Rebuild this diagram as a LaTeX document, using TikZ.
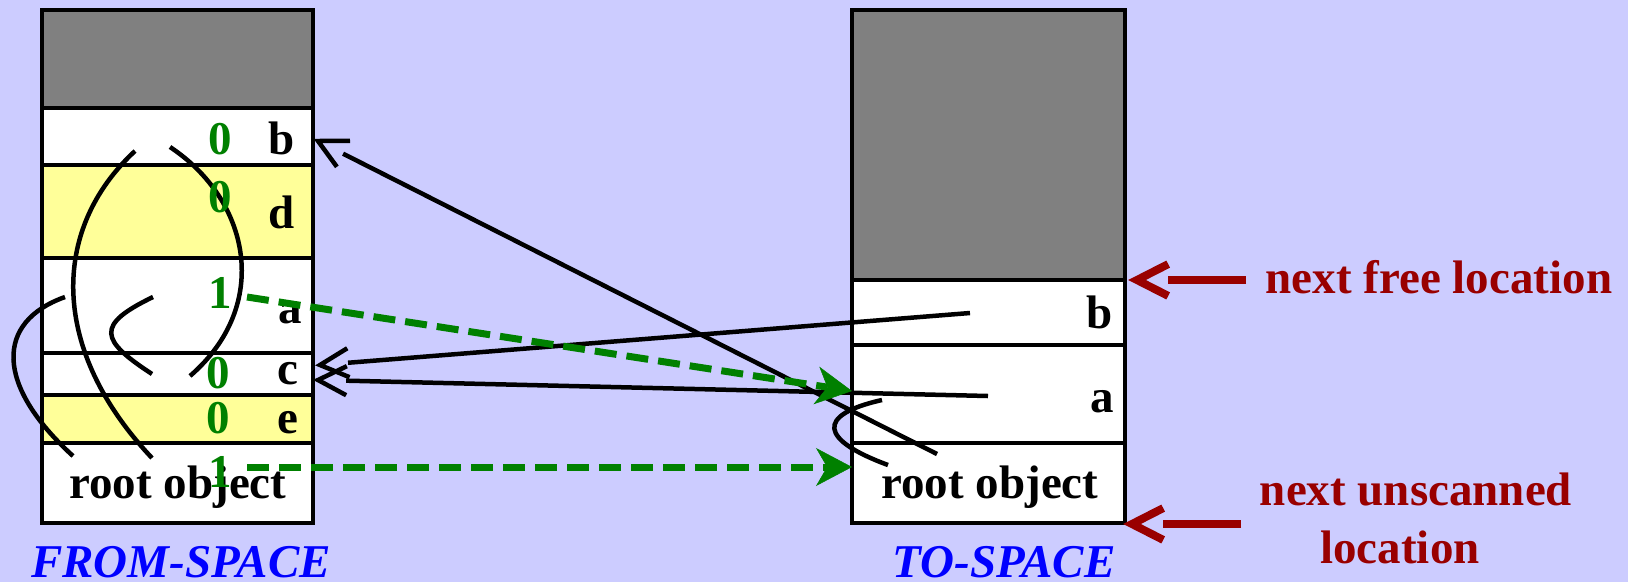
\documentclass[tikz,border=0pt]{standalone}
\usepackage{fontspec}
\setmainfont{Liberation Serif}
\usetikzlibrary{calc,arrows.meta}
\definecolor{bg}{HTML}{CCCCFF}
\definecolor{grayfill}{HTML}{808080}
\definecolor{yel}{HTML}{FFFF99}
\definecolor{grn}{HTML}{008000}
\definecolor{dred}{HTML}{990000}
\definecolor{blu}{HTML}{0000FF}
\newcommand\barbline[5]{% #1 width, #2 start, #3 tip, #4 colour, #5 barb length
  \draw[line width=#1, line cap=butt, #4] (#2) -- ($(#3)!0.88*#5!(#2)$);
  \draw[line width=#1, line join=miter, #4] ($(#3)!#5!27:(#2)$) -- (#3) -- ($(#3)!#5!-27:(#2)$);
}
\begin{document}
\begin{tikzpicture}[x=1pt,y=-1pt,
  cell/.style={draw=black, line width=4pt, inner sep=0pt, outer sep=0pt},
  fcell/.style={cell, minimum width=271pt},
  tcell/.style={cell, minimum width=273pt},
  lbl/.style={font=\fontsize{47}{56}\selectfont\bfseries, inner sep=0pt, anchor=base},
  cnt/.style={lbl, text=grn},
  spacecap/.style={font=\fontsize{47}{56}\selectfont\bfseries\itshape, text=blu, inner sep=0pt, anchor=base},
  note/.style={font=\fontsize{47}{56}\selectfont\bfseries, text=dred, inner sep=0pt, anchor=base},
  curve/.style={line width=4.5pt, line cap=butt, black},
  gptr/.style={line width=7pt, grn, dash pattern=on 22pt off 10pt, -{Stealth[length=36pt,width=38pt,inset=11pt,line width=0.5pt]}},
]
\useasboundingbox (0,0) rectangle (1628,582);
\fill[bg] (0,0) rectangle (1628,582);

% FROM-SPACE cells
\node[fcell, fill=grayfill, minimum height=98.5pt] (fg) at (177.5,58.75) {};
\node[fcell, fill=white, minimum height=57pt] (fb) at (177.5,136.5) {};
\node[fcell, fill=yel, minimum height=93pt] (fd) at (177.5,211.5) {};
\node[fcell, fill=white, minimum height=95pt] (fa) at (177.5,305.5) {};
\node[fcell, fill=white, minimum height=42pt] (fc) at (177.5,374) {};
\node[fcell, fill=yel, minimum height=48pt] (fe) at (177.5,419) {};
\node[fcell, fill=white, minimum height=80pt] (fr) at (177.5,483) {};

% TO-SPACE cells
\node[tcell, fill=grayfill, minimum height=270.5pt] (tg) at (988.5,144.75) {};
\node[tcell, fill=white, minimum height=65pt] (tb) at (988.5,312.5) {};
\node[tcell, fill=white, minimum height=98pt] (ta) at (988.5,394) {};
\node[tcell, fill=white, minimum height=80pt] (tr) at (988.5,483) {};

% labels in from-space
\node[lbl] (lb) at (282,154) {b};
\node[lbl] (ld) at (282,228) {d};
\node[lbl] (la) at (290,323) {a};
\node[lbl] (lc) at (288,384) {c};
\node[lbl] (le) at (288,433) {e};
\node[lbl] (lr) at (178,498) {root object};

% labels in to-space
\node[lbl] (tlb) at (1100,328) {b};
\node[lbl] (tla) at (1102,412) {a};
\node[lbl] (tlr) at (990,498) {root object};

% captions
\node[spacecap] (capf) at (181,577) {FROM-SPACE};
\node[spacecap] (capt) at (1004,577) {TO-SPACE};

% curves (pointers inside from-space)
\draw[curve] (135,151) .. controls (50,230) and (50,350) .. (152,458);
\draw[curve] (170,147) .. controls (250,200) and (272,305) .. (190,376);
\draw[curve] (153,297) .. controls (95,325) and (100,340) .. (152,374);
\draw[curve] (65,297) .. controls (-5,322) and (-5,385) .. (73,456);
\draw[curve] (882,400) .. controls (815,415) and (820,440) .. (888,465);

% forwarding pointers
\coordinate (sR) at (937,454);
\coordinate (tipB) at (318,141);
\coordinate (sB) at (970,313);
\coordinate (tipC1) at (320,365);
\coordinate (sA) at (988,396);
\coordinate (tipC2) at (318,380);
\barbline{4.5pt}{sR}{tipB}{black}{32pt}
\barbline{4.5pt}{sB}{tipC1}{black}{32pt}
\barbline{4.5pt}{sA}{tipC2}{black}{32pt}

% green counts
\node[cnt] (n0b) at (220,154) {0};
\node[cnt] (n0d) at (220,212) {0};
\node[cnt] (n1a) at (220,308) {1};
\node[cnt] (n0c) at (218,388) {0};
\node[cnt] (n0e) at (218,433) {0};
\node[cnt] (n1r) at (220,487) {1};

% green copy arrows
\coordinate (g1s) at (247,297);
\coordinate (g1t) at (852,391);
\coordinate (g2s) at (247,467);
\coordinate (g2t) at (852,467);
\draw[gptr] (g1s) -- (g1t);
\draw[gptr] (g2s) -- (g2t);

% red notes
\node[note] (nf) at (1439,293) {next free location};
\node[note] (nu1) at (1416,505) {next unscanned};
\node[note] (nu2) at (1400,563) {location};
\coordinate (nfs) at (1246,280);
\coordinate (nft) at (1137,280);
\coordinate (nus) at (1241,524);
\coordinate (nut) at (1132,524);
\barbline{8pt}{nfs}{nft}{dred}{35pt}
\barbline{8pt}{nus}{nut}{dred}{35pt}
\end{tikzpicture}
\end{document}
